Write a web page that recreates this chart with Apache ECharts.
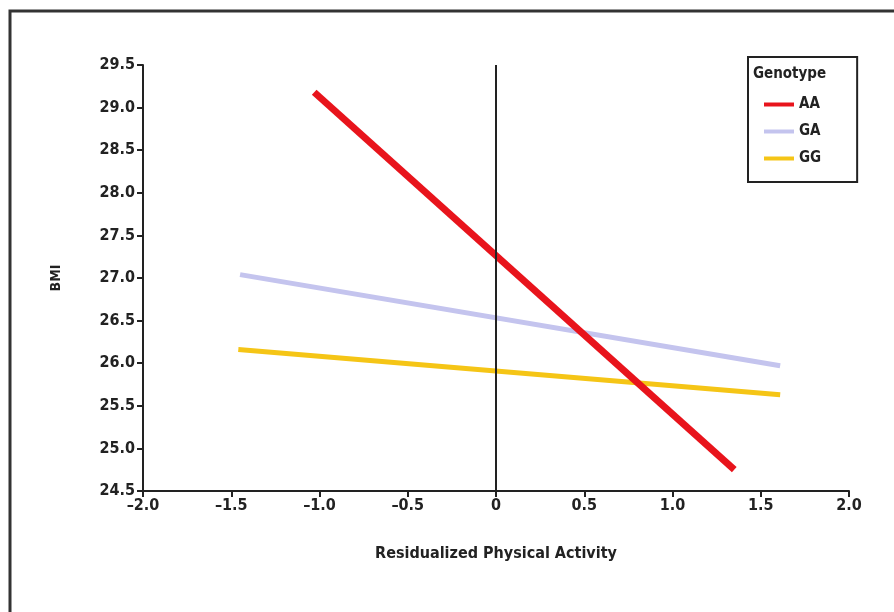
<!DOCTYPE html>
<html><head><meta charset="utf-8">
<script src="https://cdn.jsdelivr.net/npm/echarts@6/dist/echarts.min.js"></script>
<style>html,body{margin:0;padding:0;background:#fff}#c{width:894px;height:612px}</style>
</head><body><div id="c"></div>
<script>
const seriesNames = ['AA', 'GA', 'GG'];
const aaValues = [[-1.03, 29.18], [1.35, 24.75]];
const gaValues = [[-1.45, 27.04], [1.61, 25.97]];
const ggValues = [[-1.46, 26.16], [1.61, 25.63]];
const xTicks = [-2.0, -1.5, -1.0, -0.5, 0, 0.5, 1.0, 1.5, 2.0];
const yTicks = [24.5, 25.0, 25.5, 26.0, 26.5, 27.0, 27.5, 28.0, 28.5, 29.0, 29.5];

const font = '"DejaVu Sans Condensed", "Liberation Sans", Arial, sans-serif';
const chart = echarts.init(document.getElementById('c'));
const fmtX = v => v === 0 ? '0' : v.toFixed(1).replace('-', '\u2013');
chart.setOption({
  animation: false,
  backgroundColor: '#fff',
  grid: { left: 143, right: 45, top: 65, bottom: 121 },
  xAxis: {
    type: 'value', min: -2, max: 2, interval: 0.5,
    name: 'Residualized Physical Activity', nameLocation: 'middle', nameGap: 55,
    nameTextStyle: { fontFamily: font, fontSize: 16, color: '#222', fontWeight: 'bold' },
    axisLine: { onZero: false, lineStyle: { color: '#222', width: 2 } },
    axisTick: { length: 6, lineStyle: { color: '#222', width: 2 } },
    axisLabel: { formatter: fmtX, fontFamily: font, fontSize: 16, color: '#222', fontWeight: 'bold', margin: 7 },
    splitLine: { show: false }
  },
  yAxis: {
    type: 'value', min: 24.5, max: 29.5, interval: 0.5,
    name: 'BMI', nameLocation: 'middle', nameGap: 80,
    nameTextStyle: { fontFamily: font, fontSize: 14, color: '#222', fontWeight: 'bold' },
    axisLine: { show: true, onZero: false, lineStyle: { color: '#222', width: 2 } },
    axisTick: { show: true, length: 6, lineStyle: { color: '#222', width: 2 } },
    axisLabel: { formatter: v => v.toFixed(1), fontFamily: font, fontSize: 16, color: '#222', fontWeight: 'bold', margin: 8 },
    splitLine: { show: false }
  },
  legend: {
    orient: 'vertical', left: 748, top: 57, width: 110,
    data: seriesNames,
    padding: [40, 36, 16, 16], itemGap: 12, itemWidth: 30, itemHeight: 4, icon: 'rect',
    borderColor: '#222', borderWidth: 2,
    textStyle: { fontFamily: font, fontSize: 15, color: '#222', fontWeight: 'bold' }
  },
  graphic: [
    { type: 'rect', shape: { x: 10, y: 11, width: 920, height: 640 }, style: { fill: 'none', stroke: '#333', lineWidth: 3 }, silent: true },
    { type: 'text', left: 753, top: 67, style: { text: 'Genotype', font: 'bold 15px ' + font, fill: '#222' } }
  ],
  series: [
    { name: 'AA', type: 'line', data: aaValues, symbol: 'none', lineStyle: { color: '#e8141c', width: 7 }, itemStyle: { color: '#e8141c' }, z: 4,
      markLine: { silent: true, symbol: 'none', label: { show: false }, lineStyle: { color: '#222', width: 2, type: 'solid' }, data: [{ xAxis: 0 }] } },
    { name: 'GA', type: 'line', data: gaValues, symbol: 'none', lineStyle: { color: '#c4c4ee', width: 5 }, itemStyle: { color: '#c4c4ee' }, z: 3 },
    { name: 'GG', type: 'line', data: ggValues, symbol: 'none', lineStyle: { color: '#f5c516', width: 5 }, itemStyle: { color: '#f5c516' }, z: 3 }
  ]
});
</script></body></html>
